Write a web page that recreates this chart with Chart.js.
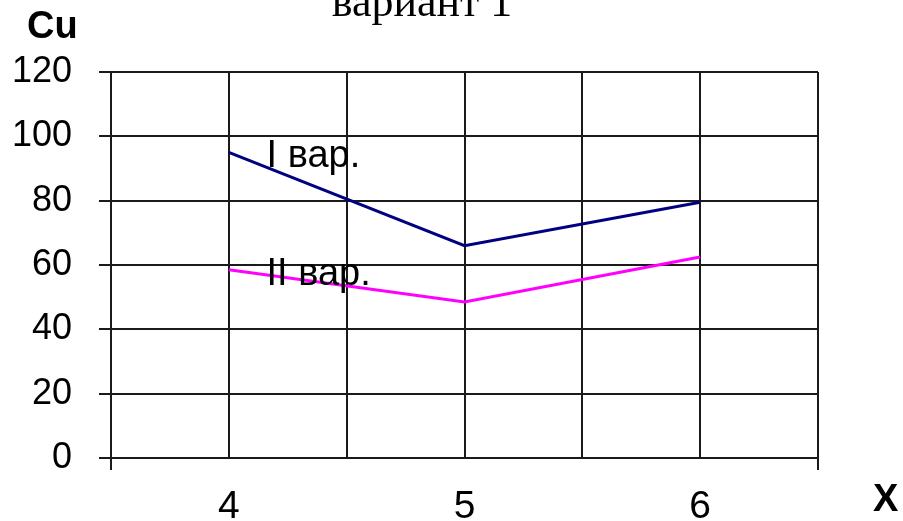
<!DOCTYPE html>
<html>
<head>
<meta charset="utf-8">
<script src="https://cdn.jsdelivr.net/npm/chart.js@4.4.1/dist/chart.umd.min.js"></script>
<style>
  html, body { margin: 0; padding: 0; background: #fff; }
  #wrap { width: 903px; height: 521px; position: relative; }
</style>
</head>
<body>
<div id="wrap"><canvas id="c" width="903" height="521"></canvas></div>
<script>
// x positions (variant number) and Cu values for both variants
const xValues = [4, 5, 6];
const cuVariant1 = [95, 66, 79.5];
const cuVariant2 = [58.5, 48.5, 62.5];
const seriesNames = ['I вар.', 'II вар.'];
const chartTitle = 'вариант 1';
const yAxisName = 'Cu';
const xAxisName = 'X';

const toPoints = (ys) => xValues.map((x, i) => ({ x: x, y: ys[i] }));

const GRID = '#1a1a1a';
const SANS = 'Liberation Sans, Arial, sans-serif';

// Title, axis names and in-plot series labels
const annotations = {
  id: 'annotations',
  afterDatasetsDraw(chart) {
    const { ctx, scales: { x, y } } = chart;
    ctx.save();
    ctx.fillStyle = '#000';
    ctx.textBaseline = 'alphabetic';

    ctx.font = '44px "Liberation Serif", "Times New Roman", serif';
    ctx.textAlign = 'center';
    ctx.fillText(chartTitle, 422, 16);

    ctx.font = 'bold 38px ' + SANS;
    ctx.textAlign = 'left';
    ctx.fillText(yAxisName, 27, 38);
    ctx.fillText(xAxisName, 873, 511);

    ctx.font = '38px ' + SANS;
    ctx.fillText(seriesNames[0], x.getPixelForValue(4.16), y.getPixelForValue(90.5));
    ctx.fillText(seriesNames[1], x.getPixelForValue(4.16), y.getPixelForValue(53.8));
    ctx.restore();
  }
};

new Chart(document.getElementById('c'), {
  type: 'line',
  data: {
    datasets: [
      { label: seriesNames[0], data: toPoints(cuVariant1), borderColor: '#000080', borderWidth: 3, pointRadius: 0, tension: 0 },
      { label: seriesNames[1], data: toPoints(cuVariant2), borderColor: '#ff00ff', borderWidth: 3, pointRadius: 0, tension: 0 }
    ]
  },
  options: {
    responsive: false,
    animation: false,
    layout: { padding: { left: 0, right: 85, top: 72, bottom: 0 } },
    plugins: { legend: { display: false }, tooltip: { enabled: false }, title: { display: false } },
    scales: {
      x: {
        type: 'linear',
        min: 3.5,
        max: 6.5,
        afterFit(scale) { scale.height = 63; },
        border: { display: true, color: GRID, width: 2 },
        grid: {
          color: GRID,
          lineWidth: 2,
          tickLength: 12,
          tickColor: (c) => (c.index === 0 || c.tick && c.tick.value === 6.5) ? GRID : 'rgba(0,0,0,0)'
        },
        ticks: {
          stepSize: 0.5,
          autoSkip: false,
          maxRotation: 0,
          padding: 14,
          color: '#000',
          font: { family: SANS, size: 39 },
          callback: (v) => Number.isInteger(v) ? String(v) : ''
        }
      },
      y: {
        min: 0,
        max: 120,
        afterFit(scale) { scale.width = 111; },
        border: { display: true, color: GRID, width: 2 },
        grid: { color: GRID, lineWidth: 2, tickLength: 12, tickColor: GRID },
        ticks: {
          stepSize: 20,
          padding: 27,
          color: '#000',
          font: { family: SANS, size: 36 }
        }
      }
    }
  },
  plugins: [annotations]
});
</script>
</body>
</html>
